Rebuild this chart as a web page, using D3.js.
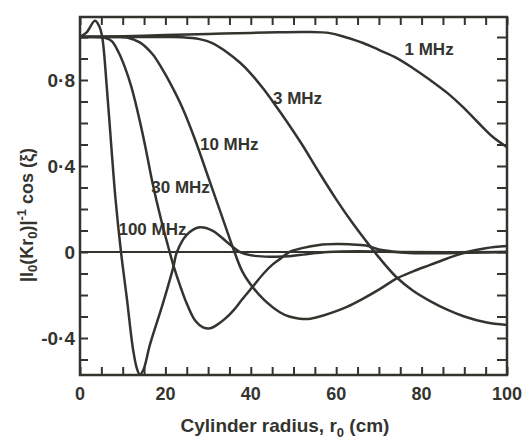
<!DOCTYPE html>
<html><head><meta charset="utf-8">
<script src="https://cdn.jsdelivr.net/npm/d3@7"></script>
<style>body{margin:0;background:#fff}svg{display:block}</style>
</head><body><svg id="c" width="527" height="439"></svg>
<script>
// ---- data ----
const x1MHz = [0,10,20,30,40,47,53,58.5,62,66.3,70,74.2,78,82,86,89.7,93,96.7,100];
const y1MHz = [1.0,1.004,1.009,1.014,1.019,1.022,1.023,1.018,1.0,0.972,0.94,0.902,0.855,0.8,0.74,0.674,0.607,0.535,0.488];

const x3MHz = [0,10,20,24,28,31,34,37.5,40,42.9,45.5,48.5,52,56,60,64,68,70,74,78,82,86,90,95,100];
const y3MHz = [1,1,1,0.999,0.99,0.972,0.935,0.88,0.83,0.76,0.69,0.605,0.5,0.37,0.245,0.13,0.025,-0.025,-0.115,-0.18,-0.228,-0.268,-0.3,-0.327,-0.34];

const x10MHz = [0,5,8,11,14,17,19,21,24,27,30,33,36,38,40.5,43,46.8,49,51.5,54,57,60,62.5,66,70,74,78,82,86,90.6,95,100];
const y10MHz = [1,1,1,0.998,0.975,0.92,0.86,0.79,0.67,0.52,0.35,0.18,0.01,-0.09,-0.165,-0.22,-0.28,-0.3,-0.31,-0.31,-0.295,-0.275,-0.255,-0.22,-0.175,-0.125,-0.09,-0.06,-0.03,0,0.018,0.028];

const x30MHz = [0,4,6,7.5,9,10.5,12,14,15.5,17,19,21,22,23.5,25,27,28.8,30.5,32,34,36,38,40.5,43,45,47,49,52,56,60,63,67,70,73,77,82,88,94,100];
const y30MHz = [1,1,0.995,0.98,0.93,0.86,0.77,0.61,0.47,0.32,0.15,0.0,-0.07,-0.16,-0.24,-0.32,-0.35,-0.355,-0.34,-0.31,-0.27,-0.22,-0.16,-0.1,-0.06,-0.03,0,0.018,0.033,0.037,0.036,0.03,0.012,0.003,-0.005,-0.006,-0.005,-0.002,0];

const x100MHz = [0,1.5,3.5,4.5,5.2,6.3,7.3,8.3,9.6,11,12.4,13.3,14,14.8,16.4,19.4,21.8,22.7,25,28,31,34.4,37.5,41,45,49,53,58,65,75,100];
const y100MHz = [1.0,1.02,1.075,1.05,1.0,0.76,0.5,0.25,0,-0.22,-0.45,-0.54,-0.57,-0.55,-0.43,-0.24,-0.075,0,0.08,0.115,0.1,0.047,0,-0.018,-0.022,-0.02,-0.01,0,0.004,0,0];

const seriesNames = ["1 MHz","3 MHz","10 MHz","30 MHz","100 MHz"];
const xTickLabels = [0,20,40,60,80,100];
const yTickLabels = [-0.4,0,0.4,0.8];

// label anchors (data units)
const labelX = [76, 45.2, 28.1, 16.7, 9.0];
const labelY = [0.915, 0.69, 0.475, 0.275, 0.08];

// ---- layout ----
const W = 527, H = 439;
const m = {l:80, r:20, t:17, b:64};
const svg = d3.select("#c");
const x = d3.scaleLinear().domain([0,100]).range([m.l, W-m.r]);
const y = d3.scaleLinear().domain([-0.572,1.093]).range([H-m.b, m.t]);
const ink = "#34342f";

const series = [
  d3.zip(x1MHz,y1MHz), d3.zip(x3MHz,y3MHz), d3.zip(x10MHz,y10MHz),
  d3.zip(x30MHz,y30MHz), d3.zip(x100MHz,y100MHz)
];

svg.append("clipPath").attr("id","pc").append("rect")
  .attr("x",m.l).attr("y",m.t).attr("width",W-m.l-m.r).attr("height",H-m.t-m.b);

// zero line
svg.append("line").attr("x1",x(0)).attr("x2",x(100)).attr("y1",y(0)).attr("y2",y(0))
  .attr("stroke",ink).attr("stroke-width",2);

const line = d3.line().x(d=>x(d[0])).y(d=>y(d[1])).curve(d3.curveCatmullRom.alpha(0.5));
svg.append("g").attr("clip-path","url(#pc)").selectAll("path").data(series).join("path")
  .attr("d",line).attr("fill","none").attr("stroke",ink).attr("stroke-width",2.5)
  .attr("stroke-linejoin","round");

// axes with inward ticks
const xt = d3.range(0,101,5), yt = d3.range(-5,11).map(v=>v/10);
const font = "'Liberation Sans', Arial, sans-serif";
const gBottom = svg.append("g").attr("transform",`translate(0,${H-m.b})`)
  .call(d3.axisBottom(x).tickValues(xt).tickSize(-8).tickFormat(""));
const gTop = svg.append("g").attr("transform",`translate(0,${m.t})`)
  .call(d3.axisTop(x).tickValues(xt).tickSize(-8).tickFormat(""));
const gLeft = svg.append("g").attr("transform",`translate(${m.l},0)`)
  .call(d3.axisLeft(y).tickValues(yt).tickSize(-8).tickFormat(""));
const gRight = svg.append("g").attr("transform",`translate(${W-m.r},0)`)
  .call(d3.axisRight(y).tickValues(yt).tickSize(-10).tickFormat(""));
[gBottom,gTop,gLeft,gRight].forEach(g=>{
  g.selectAll("path.domain").remove();
  g.selectAll("line").attr("stroke",ink).attr("stroke-width",2);
});
// frame
svg.append("rect").attr("x",m.l).attr("y",m.t).attr("width",W-m.l-m.r).attr("height",H-m.t-m.b)
  .attr("fill","none").attr("stroke",ink).attr("stroke-width",2.5);

// tick labels
const fmt = v => v===0 ? "0" : (v<0?"-":"") + String(Math.abs(v)).replace(".","·");
svg.append("g").selectAll("text").data(xTickLabels).join("text")
  .attr("x",d=>x(d)).attr("y",H-m.b+25).attr("text-anchor","middle")
  .attr("font-family",font).attr("font-weight","bold").attr("font-size",18).attr("fill",ink)
  .text(d=>d);
svg.append("g").selectAll("text").data(yTickLabels).join("text")
  .attr("x",m.l-5).attr("y",d=>y(d)+7).attr("text-anchor","end")
  .attr("font-family",font).attr("font-weight","bold").attr("font-size",19).attr("fill",ink)
  .text(fmt);

// series labels
svg.append("g").selectAll("text").data(seriesNames).join("text")
  .attr("x",(d,i)=>x(labelX[i])).attr("y",(d,i)=>y(labelY[i]))
  .attr("font-family",font).attr("font-weight","bold").attr("font-size",17).attr("fill",ink)
  .text(d=>d);

// x title
const xtitle = svg.append("text").attr("x",285).attr("y",432).attr("text-anchor","middle")
  .attr("font-family",font).attr("font-weight","bold").attr("font-size",19).attr("fill",ink);
xtitle.append("tspan").text("Cylinder radius, r");
xtitle.append("tspan").attr("dy",5).attr("font-size",13).text("0");
xtitle.append("tspan").attr("dy",-5).text(" (cm)");

// y title
const ytitle = svg.append("text").attr("transform","translate(33,215) rotate(-90)")
  .attr("text-anchor","middle")
  .attr("font-family",font).attr("font-weight","bold").attr("font-size",18).attr("fill",ink);
ytitle.append("tspan").text("|I");
ytitle.append("tspan").attr("dy",4).attr("font-size",13).text("0");
ytitle.append("tspan").attr("dy",-4).text("(Kr");
ytitle.append("tspan").attr("dy",4).attr("font-size",13).text("0");
ytitle.append("tspan").attr("dy",-4).text(")|");
ytitle.append("tspan").attr("dy",-7).attr("font-size",13).text("-1");
ytitle.append("tspan").attr("dy",7).text(" cos (ξ)");
</script></body></html>
